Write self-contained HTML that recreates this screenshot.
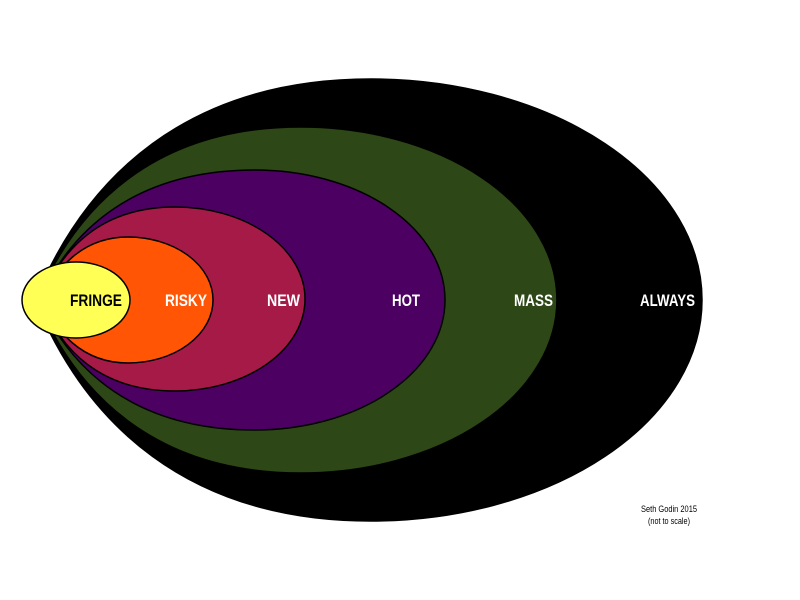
<!DOCTYPE html>
<html><head><style>body{margin:0;background:#fff}svg{display:block}</style></head><body>
<svg width="800" height="600" viewBox="0 0 800 600" xmlns="http://www.w3.org/2000/svg">
<g stroke="#000" stroke-width="1.5">
<path d="M35,300 C85,178 186,79 371,79 A331,221 0 0 1 371,521 C186,521 85,422 35,300Z" fill="#000"/>
<path d="M37,300 C77,205 156,127 301,127 A256,173 0 0 1 301,473 C156,473 77,395 37,300Z" fill="#2d4716"/>
<path d="M39,300 C71,229 136,170 255,170 A190,130 0 0 1 255,430 C136,430 71,371 39,300Z" fill="#4b0062"/>
<path d="M41,300 C61,249 101,207 175,207 A130,92 0 0 1 175,391 C101,391 61,351 41,300Z" fill="#a61a48"/>
<path d="M42,300 C55,270 81,237 128,237 A85,63 0 0 1 128,363 C81,363 55,330 42,300Z" fill="#ff5505"/>
<ellipse cx="76" cy="300" rx="54" ry="38" fill="#ffff55"/>
</g>
<g font-family="'Liberation Sans',sans-serif" font-weight="bold" font-size="17" fill="#fff">
<text x="70" y="306" textLength="52" lengthAdjust="spacingAndGlyphs" fill="#000">FRINGE</text>
<text x="165" y="306" textLength="42" lengthAdjust="spacingAndGlyphs">RISKY</text>
<text x="267" y="306" textLength="33" lengthAdjust="spacingAndGlyphs">NEW</text>
<text x="392" y="306" textLength="28" lengthAdjust="spacingAndGlyphs">HOT</text>
<text x="514" y="306" textLength="39" lengthAdjust="spacingAndGlyphs">MASS</text>
<text x="640" y="306" textLength="55" lengthAdjust="spacingAndGlyphs">ALWAYS</text>
</g>
<g font-family="'Liberation Sans',sans-serif" font-size="9" fill="#000">
<text x="641" y="512" textLength="56" lengthAdjust="spacingAndGlyphs">Seth Godin 2015</text>
<text x="648" y="524" textLength="42" lengthAdjust="spacingAndGlyphs">(not to scale)</text>
</g>
</svg>
</body></html>
